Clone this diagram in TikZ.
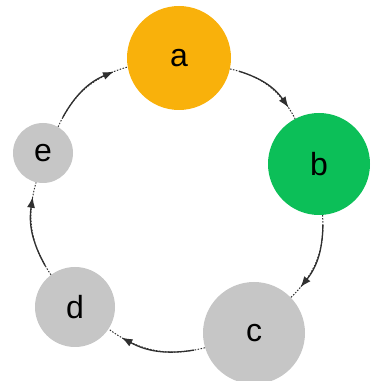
\documentclass[tikz,border=0pt]{standalone}
\usepackage{fontspec}
\setmainfont{Liberation Sans}
\usetikzlibrary{arrows.meta}
\definecolor{nodeA}{HTML}{F9B10B}
\definecolor{nodeB}{HTML}{0CBF58}
\definecolor{nodeGray}{HTML}{C6C6C6}
\definecolor{edgeCol}{HTML}{303030}
\begin{document}
\begin{tikzpicture}[x=1pt,y=1pt,
  vertex/.style={circle,inner sep=0pt,font=\fontsize{32}{36}\selectfont},
  dotline/.style={edgeCol,line width=1pt,dash pattern=on 1.5pt off 1.5pt,bend left=25},
  solidline/.style={edgeCol,line width=1.3pt,bend left=19,-{Latex[length=11pt,width=8pt]}}]
\useasboundingbox (0,0) rectangle (372,381);
\node[vertex,fill=nodeA,minimum size=104pt] (a) at (179,323) {a};
\node[vertex,fill=nodeB,minimum size=102pt] (b) at (319,217) {b};
\node[vertex,fill=nodeGray,minimum size=102pt] (c) at (254,48) {c};
\node[vertex,fill=nodeGray,minimum size=80pt] (d) at (75,74) {d};
\node[vertex,fill=nodeGray,minimum size=60pt] (e) at (43,228) {e};
\foreach \s/\t in {a/b,b/c,c/d,d/e,e/a}{
  \draw[dotline] (\s) to coordinate[pos=0.1] (\s\t1) coordinate[pos=0.86] (\s\t2) (\t);
  \draw[solidline] (\s\t1) to (\s\t2);
}
\end{tikzpicture}
\end{document}
